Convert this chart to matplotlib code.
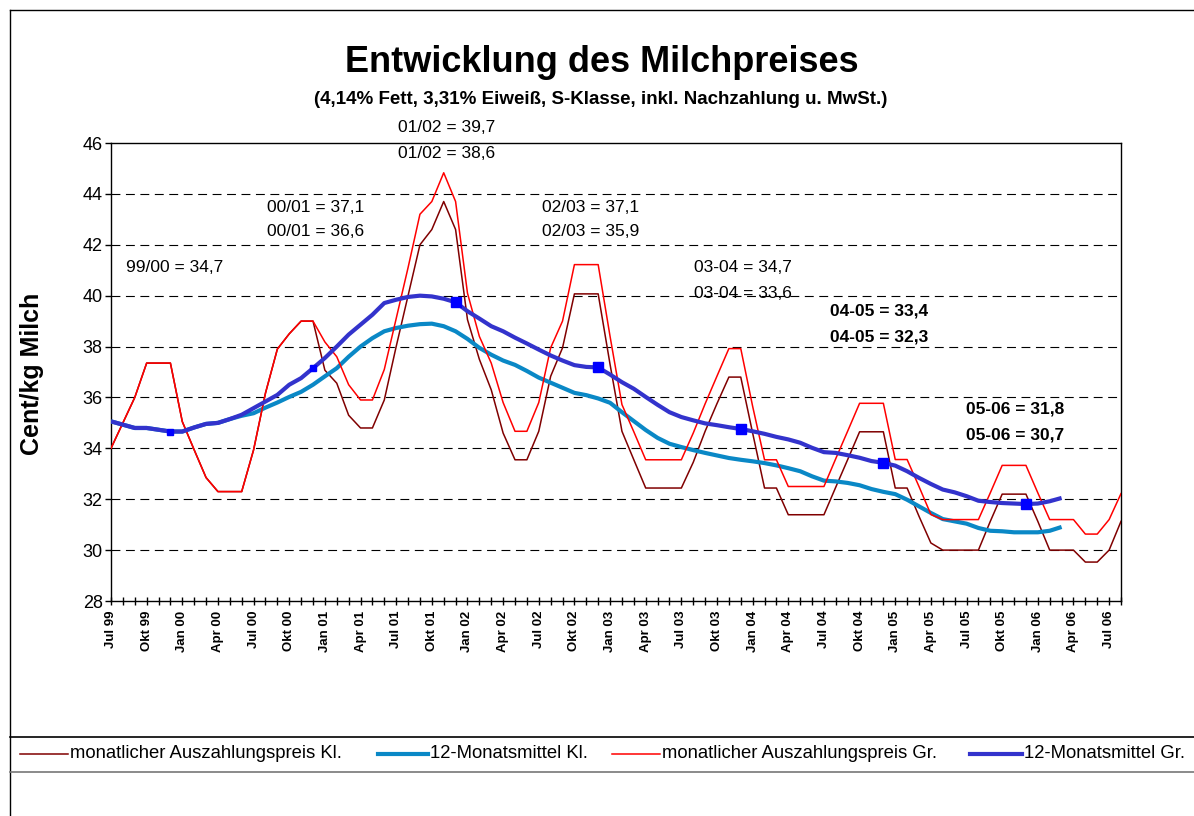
import numpy as np
import matplotlib
matplotlib.use('Agg')
import matplotlib.pyplot as plt
from matplotlib.lines import Line2D

plt.rcParams['font.family'] = ['Liberation Sans', 'DejaVu Sans']

# monthly values Jul 99 .. Aug 06
preis_gr = [34.0, 35.0, 36.0, 37.35, 37.35, 37.35, 35.05, 33.94, 32.85, 32.3,
            32.3, 32.3, 33.94, 36.17, 37.9, 38.5, 39.0, 39.0, 38.18, 37.6,
            36.5, 35.9, 35.9, 37.1, 39.1, 41.1, 43.2, 43.7, 44.83, 43.7,
            40.1, 38.4, 37.35, 35.8, 34.67, 34.67, 35.8, 37.95, 39.0, 41.22,
            41.22, 41.22, 38.4, 35.72, 34.65, 33.55, 33.55, 33.55, 33.55, 34.6,
            35.75, 36.84, 37.92, 37.92, 35.65, 33.55, 33.55, 32.5, 32.5, 32.5,
            32.5, 33.6, 34.68, 35.77, 35.77, 35.77, 33.56, 33.56, 32.5, 31.4,
            31.2, 31.2, 31.2, 31.2, 32.25, 33.33, 33.33, 33.33, 32.25, 31.2,
            31.2, 31.2, 30.63, 30.63, 31.2, 32.22]

preis_kl = [34.0, 35.0, 36.0, 37.35, 37.35, 37.35, 35.05, 33.94, 32.85, 32.3,
            32.3, 32.3, 33.94, 36.17, 37.9, 38.5, 39.0, 39.0, 37.07, 36.56,
            35.3, 34.8, 34.8, 35.9, 38.0, 40.0, 42.0, 42.6, 43.7, 42.6,
            39.06, 37.5, 36.3, 34.6, 33.55, 33.55, 34.67, 36.83, 37.95, 40.07,
            40.07, 40.07, 37.3, 34.67, 33.55, 32.44, 32.44, 32.44, 32.44, 33.45,
            34.67, 35.76, 36.8, 36.8, 34.6, 32.44, 32.44, 31.39, 31.39, 31.39,
            31.39, 32.48, 33.56, 34.65, 34.65, 34.65, 32.44, 32.44, 31.33, 30.28,
            30.0, 30.0, 30.0, 30.0, 31.13, 32.2, 32.2, 32.2, 31.13, 30.0,
            30.0, 30.0, 29.53, 29.53, 30.0, 31.13]

mittel_gr = [35.06, 34.93, 34.8, 34.8, 34.73, 34.66, 34.66, 34.82, 34.96, 35.0,
             35.15, 35.32, 35.58, 35.84, 36.1, 36.5, 36.76, 37.15, 37.55, 38.0,
             38.47, 38.86, 39.25, 39.71, 39.84, 39.95, 40.0, 39.97, 39.88, 39.74,
             39.39, 39.1, 38.8, 38.6, 38.35, 38.12, 37.88, 37.65, 37.45, 37.27,
             37.2, 37.18, 36.9, 36.6, 36.34, 36.02, 35.71, 35.42, 35.23, 35.1,
             34.98, 34.91, 34.83, 34.76, 34.67, 34.57, 34.45, 34.35, 34.22, 34.02,
             33.85, 33.82, 33.73, 33.63, 33.5, 33.43, 33.32, 33.1, 32.84, 32.6,
             32.38, 32.27, 32.12, 31.94, 31.89, 31.85, 31.83, 31.81, 31.83, 31.92,
             32.05]

mittel_kl = [35.06, 34.93, 34.8, 34.8, 34.73, 34.66, 34.66, 34.82, 34.96, 35.0,
             35.15, 35.28, 35.38, 35.6, 35.8, 36.02, 36.22, 36.5, 36.83, 37.15,
             37.6, 38.0, 38.33, 38.6, 38.73, 38.82, 38.88, 38.9, 38.8, 38.6,
             38.3, 37.95, 37.68, 37.45, 37.28, 37.04, 36.78, 36.58, 36.38, 36.18,
             36.09, 35.96, 35.79, 35.42, 35.07, 34.72, 34.41, 34.18, 34.05, 33.93,
             33.82, 33.72, 33.62, 33.55, 33.49, 33.42, 33.33, 33.22, 33.1, 32.9,
             32.73, 32.7, 32.64, 32.55, 32.4, 32.29, 32.2, 31.98, 31.72, 31.46,
             31.22, 31.13, 31.04, 30.87, 30.76, 30.74, 30.7, 30.7, 30.7, 30.76,
             30.91]

# december points marked on the Gr average
marker_small = [5, 17]
marker_big = [29, 41, 53, 65, 77]

monate = ['Jul', 'Okt', 'Jan', 'Apr']
jahre = ['99', '99', '00', '00', '00', '00', '01', '01', '01', '01', '02', '02',
         '02', '02', '03', '03', '03', '03', '04', '04', '04', '04', '05', '05',
         '05', '05', '06', '06', '06']

jahres_texte = [('99/00 = 34,7', None), ('00/01 = 37,1', '00/01 = 36,6'),
                ('01/02 = 39,7', '01/02 = 38,6'), ('02/03 = 37,1', '02/03 = 35,9'),
                ('03-04 = 34,7', '03-04 = 33,6'), ('04-05 = 33,4', '04-05 = 32,3'),
                ('05-06 = 31,8', '05-06 = 30,7')]

legend_labels = ['monatlicher Auszahlungspreis Kl.', '12-Monatsmittel Kl.',
                 'monatlicher Auszahlungspreis Gr.', '12-Monatsmittel Gr.']

W, H = 1194, 816


def fx(px):
    return px / W


def fy(py):
    return 1 - py / H


fig = plt.figure(figsize=(W / 100, H / 100), dpi=100)
ax = fig.add_axes([fx(111), fy(601), fx(1121) - fx(111), fy(143) - fy(601)])

x = np.arange(len(preis_gr))
xm = np.arange(len(mittel_gr))

farben = ['#800000', '#0A88C6', '#FF0000', '#3333CC']
breiten = [1.1, 3.0, 1.1, 3.0]

ax.plot(x, preis_kl, color=farben[0], lw=breiten[0], zorder=3)
ax.plot(xm, mittel_kl, color=farben[1], lw=breiten[1], zorder=4, solid_capstyle='butt')
ax.plot(x, preis_gr, color=farben[2], lw=breiten[2], zorder=5)
ax.plot(xm, mittel_gr, color=farben[3], lw=breiten[3], zorder=6, solid_capstyle='butt')
ax.plot(marker_small, [mittel_gr[i] for i in marker_small], 's', color='#0000FF',
        ms=5, zorder=7)
ax.plot(marker_big, [mittel_gr[i] for i in marker_big], 's', color='#0000FF',
        ms=7.5, zorder=7)

ax.set_xlim(0, len(preis_gr) - 1)
ax.set_ylim(28, 46)
ax.set_yticks(np.arange(28, 47, 2))
ax.tick_params(axis='y', direction='out', length=4, width=1, labelsize=13, pad=2)
for v in range(30, 46, 2):
    ax.axhline(v, color='black', lw=0.8, ls=(0, (8, 5)), zorder=1)

labels = []
for i in range(len(preis_gr)):
    if i % 3 == 0 and i // 3 < len(jahre):
        labels.append(monate[(i // 3) % 4] + ' ' + jahre[i // 3])
    else:
        labels.append('')
ax.set_xticks(x)
ax.set_xticklabels(labels, rotation=90, fontsize=9.5, fontweight='bold')
ax.tick_params(axis='x', direction='inout', length=6, width=1, pad=4)
for s in ax.spines.values():
    s.set_linewidth(1)
    s.set_color('black')

fig.text(fx(32), fy(374), 'Cent/kg Milch', fontsize=18, fontweight='bold',
         rotation=90, ha='center', va='center')

fig.text(fx(602), fy(63), 'Entwicklung des Milchpreises', fontsize=26,
         fontweight='bold', ha='center', va='center')
fig.text(fx(601), fy(100), '(4,14% Fett, 3,31% Eiweiß, S-Klasse, inkl. Nachzahlung u. MwSt.)',
         fontsize=13.5, fontweight='bold', ha='center', va='center')

text_pos = [(126, 267, None), (267, 207, 232), (398, 128, 153), (542, 207, 232),
            (694, 267, 294), (830, 311, 337), (966, 409, 435)]
for k, (t1, t2) in enumerate(jahres_texte):
    px, py1, py2 = text_pos[k]
    bold = 'bold' if k >= 5 else 'normal'
    fig.text(fx(px), fy(py1), t1, fontsize=12.5, fontweight=bold, va='center')
    if t2 is not None:
        fig.text(fx(px), fy(py2), t2, fontsize=12.5, fontweight=bold, va='center')

# legend row, placed like the original
leg_x = [(20, 68), (378, 428), (612, 660), (970, 1022)]
for k, lab in enumerate(legend_labels):
    x0, x1 = leg_x[k]
    fig.add_artist(Line2D([fx(x0), fx(x1)], [fy(754), fy(754)], color=farben[k],
                          lw=breiten[k]))
    fig.text(fx(x1 + 2), fy(754), lab, fontsize=13.3, va='center')

# outer frame and legend box lines
fig.add_artist(Line2D([fx(10), fx(10)], [fy(10), 0], color='black', lw=1))
fig.add_artist(Line2D([fx(10), 1], [fy(10), fy(10)], color='black', lw=1))
fig.add_artist(Line2D([fx(10), 1], [fy(737), fy(737)], color='black', lw=1.2))
fig.add_artist(Line2D([fx(10), 1], [fy(772), fy(772)], color='#777777', lw=1.2))

fig.savefig('out.png', dpi=100)
